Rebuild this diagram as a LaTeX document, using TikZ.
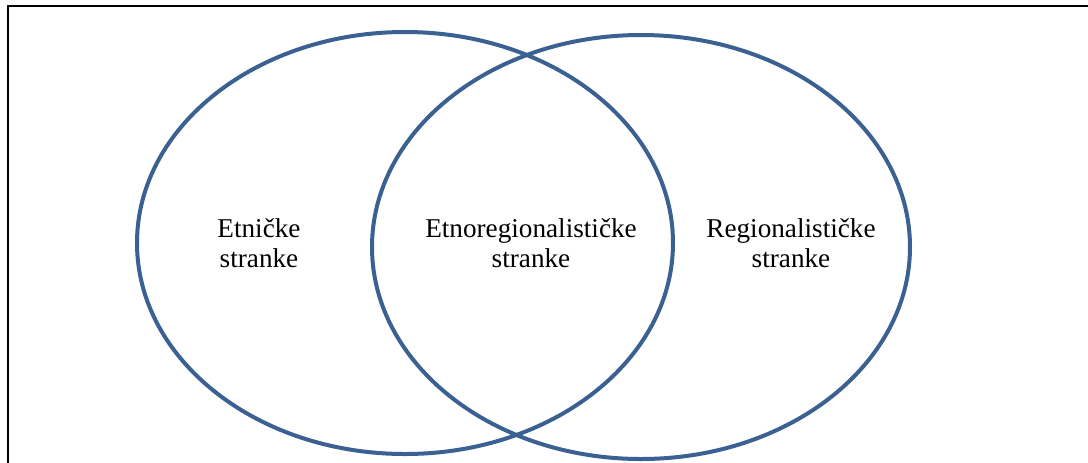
\documentclass[tikz,border=0pt]{standalone}
\usepackage{fontspec}
\setmainfont{Liberation Serif}
\usetikzlibrary{positioning}

\begin{document}
\begin{tikzpicture}[x=0.5pt,y=-0.5pt,
  set/.style={draw=setblue,line width=2pt},
  lbl/.style={align=center,font=\fontsize{13.6}{15}\selectfont}]
\definecolor{setblue}{HTML}{3A6191}
\useasboundingbox (0,0) rectangle (1088,462);
% frame
\draw[line width=1.1pt] (8,470) -- (8,6) -- (1095,6);
% left set
\draw[set] (405,243) ellipse [x radius=268, y radius=211];
% right set
\draw[set] (641,247) ellipse [x radius=269, y radius=212];
% labels
\node[lbl] (etn) at (259,243) {Etničke\\stranke};
\node[lbl] (mid) at (531,243) {Etnoregionalističke\\stranke};
\node[lbl] (reg) at (791,243) {Regionalističke\\stranke};
\end{tikzpicture}
\end{document}
